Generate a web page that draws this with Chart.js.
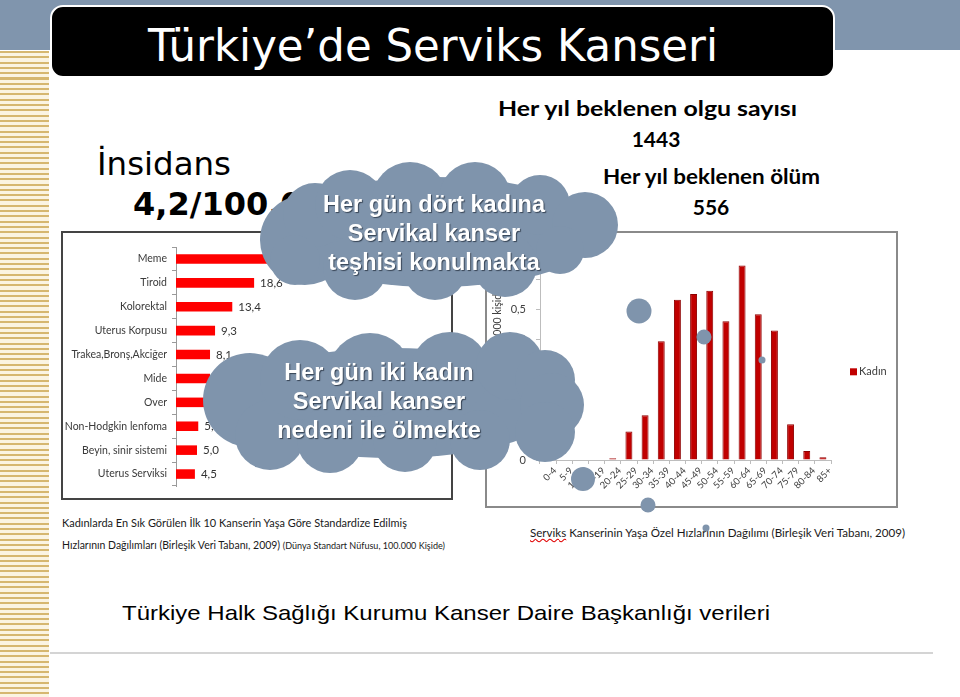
<!DOCTYPE html>
<html lang="tr"><head><meta charset="utf-8"><title>Türkiye’de Serviks Kanseri</title>
<script src="https://cdn.jsdelivr.net/npm/chart.js"></script>
<style>
html,body{margin:0;padding:0;background:#fff;}
#page{position:relative;width:960px;height:697px;overflow:hidden;background:#fff;}
.abs{position:absolute;white-space:nowrap;margin:0;}
.t{line-height:1;}
#band{left:0;top:0;width:960px;height:50px;background:#8095ad;}
#stripes{left:0;top:51px;width:49px;height:646px;background:repeating-linear-gradient(180deg,#d6b76f 0px,#d6b76f 2px,#fbf4e1 2px,#fbf4e1 5.3px);}
#titlebox{left:50px;top:5px;width:781px;height:69px;background:#000;border:2px solid #fff;border-radius:13px;}
#title{left:148px;top:24px;font-family:"DejaVu Sans",sans-serif;font-size:44px;color:#fff;}
#ins{left:97px;top:148px;font-family:"DejaVu Sans",sans-serif;font-size:32px;color:#000;}
#rate{left:133px;top:188px;font-family:"DejaVu Sans",sans-serif;font-weight:bold;font-size:32px;color:#000;}
.stat{font-family:Lato,sans-serif;font-weight:bold;font-size:21px;color:#000;}
#olgu{left:498px;top:97px;}
#n1443{left:630px;top:128px;}
#olum{left:603px;top:165px;}
#n556{left:692px;top:196px;}
.cap{font-family:Lato,sans-serif;font-size:11px;color:#1a1a1a;}
.cap small{font-size:9.5px;}
#cap1{left:62px;top:517px;}
#cap2{left:62px;top:539px;}
#cap3{left:530px;top:527px;}
#rule{left:50px;top:652px;width:883px;height:2px;background:#d4d4d4;}
#leftBox{left:61px;top:231px;width:388px;height:265px;border:2px solid #444;background:#fff;}
#rightBox{left:485px;top:231px;width:409px;height:273px;border:2px solid #8a8a8a;background:#fff;}
#leftBox canvas,#rightBox canvas{display:block;}
#clouds{left:0;top:0;z-index:5;}
.ctext{z-index:6;font-family:"Liberation Sans",Arial,sans-serif;font-weight:bold;font-size:23.5px;line-height:29px;color:#fff;text-align:center;text-shadow:1px 1px 1px rgba(30,40,55,.75);width:320px;}
#foot{left:122px;top:602px;font-family:"Liberation Sans",Arial,sans-serif;font-size:21px;color:#000;}
.sq{text-decoration:underline wavy #e00000;text-decoration-thickness:1px;}
</style></head>
<body>
<div id="page">
  <div class="abs" id="band"></div>
  <div class="abs" id="stripes"></div>
  <div class="abs" id="titlebox"></div>
  <div class="abs t" id="title">Türkiye’de Serviks Kanseri</div>

  <div class="abs t" id="ins">İnsidans</div>
  <div class="abs t" id="rate">4,2/100.000</div>

  <div class="abs t stat" id="olgu">Her yıl beklenen olgu sayısı</div>
  <div class="abs t stat" id="n1443">1443</div>
  <div class="abs t stat" id="olum">Her yıl beklenen ölüm</div>
  <div class="abs t stat" id="n556">556</div>

  <div class="abs" id="leftBox"><canvas id="leftChart" width="388" height="265"></canvas></div>
  <div class="abs" id="rightBox"><canvas id="rightChart" width="409" height="273"></canvas></div>

  <div class="abs t cap" id="cap1">Kadınlarda En Sık Görülen İlk 10 Kanserin Yaşa Göre Standardize Edilmiş</div>
  <div class="abs t cap" id="cap2">Hızlarının Dağılımları (Birleşik Veri Tabanı, 2009) <small>(Dünya Standart Nüfusu, 100.000 Kişide)</small></div>
  <div class="abs t cap" id="cap3"><span class="sq">Serviks</span> Kanserinin Yaşa Özel Hızlarının Dağılımı (Birleşik Veri Tabanı, 2009)</div>

  <svg class="abs" id="clouds" width="960" height="697" xmlns="http://www.w3.org/2000/svg">
    <g fill="#7f94ac">
      <ellipse cx="435" cy="232" rx="165" ry="55"/>
      <circle cx="305" cy="240" r="45"/>
      <circle cx="315" cy="215" r="32"/>
      <circle cx="350" cy="205" r="35"/>
      <circle cx="410" cy="200" r="38"/>
      <circle cx="475" cy="198" r="36"/>
      <circle cx="540" cy="205" r="30"/>
      <circle cx="585" cy="225" r="33"/>
      <circle cx="560" cy="250" r="24"/>
      <circle cx="505" cy="265" r="32"/>
      <circle cx="435" cy="268" r="32"/>
      <circle cx="355" cy="268" r="32"/>
      <circle cx="295" cy="260" r="25"/>

      <ellipse cx="393" cy="403" rx="170" ry="55"/>
      <circle cx="250" cy="400" r="47"/>
      <circle cx="270" cy="435" r="35"/>
      <circle cx="300" cy="380" r="40"/>
      <circle cx="370" cy="375" r="42"/>
      <circle cx="450" cy="372" r="40"/>
      <circle cx="510" cy="366" r="34"/>
      <circle cx="545" cy="380" r="30"/>
      <circle cx="552" cy="405" r="32"/>
      <circle cx="545" cy="432" r="30"/>
      <circle cx="480" cy="440" r="30"/>
      <circle cx="405" cy="440" r="32"/>
      <circle cx="330" cy="440" r="33"/>

      <circle cx="639" cy="311" r="12.5"/>
      <circle cx="704" cy="337" r="7.5"/>
      <circle cx="762" cy="360" r="3.5"/>
      <circle cx="583" cy="479" r="12"/>
      <circle cx="648" cy="505" r="7.5"/>
      <circle cx="706" cy="528" r="3.5"/>
    </g>
  </svg>
  <div class="abs ctext" id="c1" style="left:274px;top:190px;">Her gün dört kadına<br>Servikal kanser<br>teşhisi konulmakta</div>
  <div class="abs ctext" id="c2" style="left:219px;top:358px;">Her gün iki kadın<br>Servikal kanser<br>nedeni ile ölmekte</div>

  <div class="abs" id="rule"></div>
  <div class="abs t" id="foot">Türkiye Halk Sağlığı Kurumu Kanser Daire Başkanlığı verileri</div>
</div>

<script>
// ---- Data ----
const cancerTypes = ['Meme','Tiroid','Kolorektal','Uterus Korpusu','Trakea,Bronş,Akciğer','Mide','Over','Non-Hodgkin lenfoma','Beyin, sinir sistemi','Uterus Serviksi'];
const cancerRates = [40.6, 18.6, 13.4, 9.3, 8.1, 8.1, 6.7, 5.3, 5.0, 4.5];

const ageGroups = ['0-4','5-9','10-14','15-19','20-24','25-29','30-34','35-39','40-44','45-49','50-54','55-59','60-64','65-69','70-74','75-79','80-84','85+'];
const ageRates  = [0, 0, 0, 0, 0.006, 0.095, 0.149, 0.395, 0.533, 0.552, 0.563, 0.462, 0.647, 0.485, 0.431, 0.119, 0.030, 0.009];
const seriesName = 'Kadın';
const rateAxisTitle = 'Yaşa Özel Hız (100.000 kişide)';

const fmt = v => v === 0 ? '0' : (+v).toFixed(1).replace('.', ',');

Chart.defaults.animation = false;
Chart.defaults.responsive = false;
Chart.defaults.devicePixelRatio = 1;

const valueLabels = {
  id: 'valueLabels',
  afterDatasetsDraw(chart) {
    const ctx = chart.ctx, meta = chart.getDatasetMeta(0), data = chart.data.datasets[0].data;
    ctx.save();
    ctx.font = '11.5px Lato, sans-serif';
    ctx.fillStyle = '#333';
    ctx.textAlign = 'left';
    ctx.textBaseline = 'middle';
    meta.data.forEach((bar, i) => ctx.fillText(fmt(data[i]), bar.x + 6, bar.y + 0.5));
    ctx.restore();
  }
};

new Chart(document.getElementById('leftChart'), {
  type: 'bar',
  data: { labels: cancerTypes, datasets: [{ data: cancerRates, backgroundColor: '#ff0000', borderWidth: 0, categoryPercentage: 1, barPercentage: 0.4 }] },
  options: {
    indexAxis: 'y',
    layout: { padding: { left: 0, right: 23, top: 14, bottom: 12 } },
    plugins: { legend: { display: false }, tooltip: { enabled: false } },
    scales: {
      x: { display: false, min: 0, max: 60 },
      y: {
        afterFit(s) { s.width = 113; },
        border: { display: true, color: '#9a9a9a', width: 1 },
        grid: { display: true, drawOnChartArea: false, tickLength: 4, color: '#9a9a9a' },
        ticks: { font: { family: 'Lato', size: 10.5 }, color: '#3a3a3a', padding: 5 }
      }
    }
  },
  plugins: [valueLabels]
});

const seriesLegend = {
  id: 'seriesLegend',
  afterDraw(chart) {
    const ctx = chart.ctx, ds = chart.data.datasets[0], a = chart.chartArea;
    const x = a.right + 19, y = (a.top + a.bottom) / 2 + 17;
    ctx.save();
    ctx.fillStyle = ds.backgroundColor;
    ctx.fillRect(x, y - 3.5, 7, 7);
    ctx.font = '11px Lato, sans-serif';
    ctx.fillStyle = '#404040';
    ctx.textBaseline = 'middle';
    ctx.fillText(ds.label, x + 9, y);
    ctx.restore();
  }
};

new Chart(document.getElementById('rightChart'), {
  type: 'bar',
  data: { labels: ageGroups, datasets: [{ label: seriesName, data: ageRates, backgroundColor: '#c00000', borderColor: '#8e0000', borderWidth: 1, categoryPercentage: 1, barPercentage: 0.43 }] },
  options: {
    layout: { padding: { left: 0, right: 65, top: 11, bottom: 0 } },
    plugins: { legend: { display: false }, tooltip: { enabled: false } },
    scales: {
      x: {
        afterFit(s) { s.height = 46; },
        border: { display: true, color: '#bdbdbd', width: 1 },
        grid: { display: true, drawOnChartArea: false, tickLength: 4, color: '#bdbdbd' },
        ticks: { autoSkip: false, minRotation: 45, maxRotation: 45, labelOffset: 7, font: { family: 'Lato', size: 9.5 }, color: '#404040', padding: 1 }
      },
      y: {
        min: 0, max: 0.7,
        afterFit(s) { s.width = 53; },
        border: { display: true, color: '#bdbdbd', width: 1 },
        grid: { display: true, drawOnChartArea: false, tickLength: 4, color: '#bdbdbd' },
        ticks: { stepSize: 0.1, callback: v => fmt(v), font: { family: 'Lato', size: 11 }, color: '#404040', padding: 10 },
        title: { display: true, text: rateAxisTitle, font: { family: 'Lato', size: 10.5 }, color: '#404040', padding: { top: 4, bottom: 0 } }
      }
    }
  },
  plugins: [seriesLegend]
});

// ---- text fitting ----
function fitW(id, w) {
  const el = document.getElementById(id);
  const r = el.getBoundingClientRect().width;
  el.style.transformOrigin = '0 0';
  el.style.transform = 'scaleX(' + (w / r) + ')';
}
function centerX(id, cx) {
  const el = document.getElementById(id);
  const r = el.getBoundingClientRect().width;
  el.style.left = (cx - r / 2) + 'px';
}
fitW('title', 570);
fitW('ins', 134);
fitW('olgu', 299);
fitW('olum', 217);
centerX('n1443', 656);
centerX('n556', 711);
fitW('cap1', 345);
fitW('cap2', 383);
fitW('cap3', 375);
fitW('foot', 648);
</script>
</body></html>
